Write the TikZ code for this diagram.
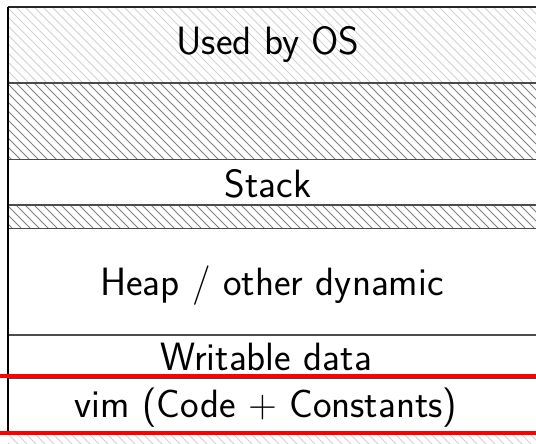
\documentclass[tikz,border=0pt]{standalone}
\begin{document}
\begin{tikzpicture}[x=1pt,y=-1pt,
  hatchline/.style={line width=0.9pt},
  divider/.style={draw=black!70,line width=1.1pt},
  redline/.style={draw=red,line width=4pt},
  label/.style={font=\sffamily\fontsize{39.5}{42}\selectfont,anchor=base,inner sep=0pt}]
\useasboundingbox (0,0) rectangle (536,444);
\clip (0,0) rectangle (536,444);
% hatched regions: \hatch{top}{bottom}{colour}
\newcommand\hatchregion[3]{%
  \begin{scope}
    \clip (8,#1) rectangle (560,#2);
    \foreach \xx in {-200,-191,...,560}
      \draw[hatchline,draw=#3] (\xx,#1) -- ++(300,300);
  \end{scope}}
\hatchregion{7}{83}{black!18}
\hatchregion{83}{159.5}{black!50}
\hatchregion{205}{228.5}{black!50}
\hatchregion{433}{460}{black!18}
% dividers
\draw[divider,draw=black!85] (8,7) -- (560,7);
\foreach \yy in {83,159.5,205,228.5,335,378.5,433}
  \draw[divider] (8,\yy) -- (560,\yy);
\draw[line width=1.2pt] (8,7) -- (8,433);
% labels
\node[label] (os) at (268,55) {Used by OS};
\node[label] (stack) at (268,197) {Stack};
\node[label] (heap) at (272,295) {Heap / other dynamic};
\node[label] (data) at (266,370) {Writable data};
\node[label] (code) at (266,417) {vim (Code + Constants)};
% red markers
\coordinate (r1a) at (0,375.5); \coordinate (r1b) at (536,375.5);
\coordinate (r2a) at (0,433); \coordinate (r2b) at (536,433);
\draw[redline] (r1a) -- (r1b);
\draw[redline] (r2a) -- (r2b);
\end{tikzpicture}
\end{document}
